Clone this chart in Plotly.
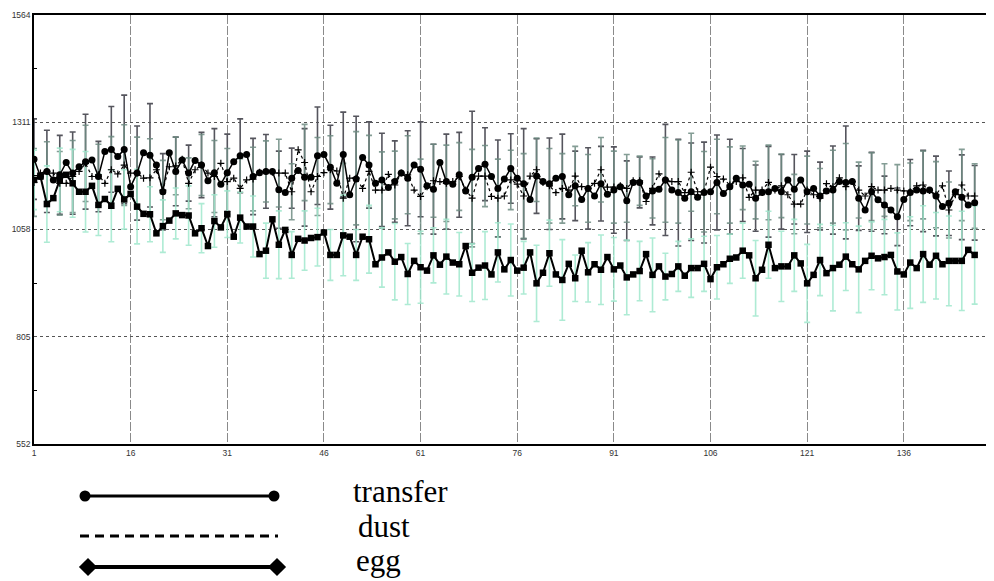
import plotly.graph_objects as go

# ---------------- data ----------------
transfer = [1224, 1183, 1195, 1175, 1187, 1216, 1191, 1206, 1218, 1222,
            1183, 1242, 1247, 1230, 1247, 1159, 1191, 1239, 1233, 1210,
            1147, 1239, 1195, 1222, 1191, 1221, 1210, 1173, 1192, 1165,
            1192, 1218, 1232, 1235, 1183, 1192, 1195, 1195, 1152, 1145,
            1179, 1197, 1181, 1181, 1232, 1235, 1205, 1167, 1235, 1140,
            1177, 1228, 1210, 1167, 1175, 1157, 1171, 1191, 1179, 1210,
            1200, 1161, 1153, 1216, 1171, 1165, 1187, 1149, 1181, 1202,
            1212, 1183, 1155, 1177, 1202, 1179, 1166, 1129, 1184, 1171,
            1166, 1179, 1183, 1140, 1161, 1129, 1155, 1137, 1166, 1141,
            1151, 1159, 1126, 1169, 1169, 1137, 1149, 1153, 1175, 1151,
            1145, 1132, 1147, 1134, 1145, 1147, 1169, 1143, 1159, 1179,
            1163, 1165, 1132, 1145, 1147, 1155, 1147, 1175, 1153, 1175,
            1147, 1155, 1137, 1149, 1151, 1171, 1169, 1171, 1132, 1104,
            1147, 1128, 1116, 1104, 1088, 1129, 1145, 1151, 1149, 1151,
            1137, 1112, 1120, 1147, 1134, 1116, 1121]

dust = [1169, 1191, 1195, 1191, 1167, 1167, 1183, 1195, 1214, 1183,
        1187, 1167, 1199, 1189, 1210, 1191, 1191, 1179, 1180, 1199,
        1151, 1206, 1208, 1224, 1167, 1199, 1210, 1191, 1183, 1214,
        1171, 1179, 1155, 1175, 1177, 1193, 1195, 1193, 1191, 1191,
        1147, 1246, 1216, 1147, 1183, 1192, 1199, 1196, 1132, 1179,
        1179, 1155, 1195, 1151, 1151, 1188, 1163, 1191, 1187, 1151,
        1136, 1159, 1173, 1171, 1167, 1171, 1183, 1151, 1132, 1184,
        1184, 1136, 1132, 1137, 1175, 1165, 1137, 1184, 1199, 1169,
        1161, 1145, 1155, 1151, 1184, 1159, 1155, 1167, 1199, 1158,
        1158, 1161, 1155, 1173, 1173, 1124, 1155, 1189, 1175, 1171,
        1171, 1145, 1193, 1147, 1147, 1205, 1183, 1177, 1163, 1171,
        1180, 1134, 1151, 1151, 1169, 1151, 1161, 1140, 1118, 1118,
        1151, 1140, 1132, 1166, 1159, 1180, 1159, 1171, 1151, 1137,
        1159, 1151, 1151, 1155, 1151, 1149, 1147, 1161, 1163, 1150,
        1140, 1161, 1104, 1140, 1163, 1137, 1137]

egg = [1175, 1183, 1118, 1132, 1175, 1187, 1167, 1147, 1147, 1161,
       1116, 1130, 1114, 1154, 1129, 1142, 1112, 1095, 1094, 1049,
       1066, 1079, 1096, 1092, 1091, 1049, 1061, 1019, 1078, 1063,
       1094, 1041, 1086, 1065, 1065, 1000, 1008, 1082, 1022, 1057,
       998, 1036, 1032, 1038, 1040, 1051, 998, 998, 1044, 1041,
       998, 1041, 1035, 976, 992, 1004, 982, 993, 953, 984,
       969, 961, 997, 975, 994, 980, 976, 1019, 956, 968,
       973, 952, 1004, 964, 986, 961, 968, 1004, 931, 956,
       1002, 952, 939, 977, 943, 1008, 957, 976, 963, 993,
       964, 973, 945, 952, 960, 1000, 951, 971, 947, 953,
       971, 949, 967, 967, 977, 941, 969, 976, 989, 992,
       1008, 997, 943, 963, 1022, 967, 971, 971, 997, 978,
       931, 951, 986, 955, 967, 975, 994, 976, 964, 984,
       996, 990, 993, 998, 959, 952, 980, 967, 1000, 975,
       996, 976, 984, 984, 984, 1010, 998]

# error half-widths, drawn at every other sample (1, 3, 5, ...)
transfer_err = [95, 97, 93, 97, 112, 83, 101, 128, 111, 122, 90, 81,
                66, 77, 104, 91, 87, 90, 87, 91, 71, 115, 115, 99,
                100, 148, 102, 110, 96, 112, 112, 106, 112, 100, 156, 86,
                114, 82, 130, 88, 108, 100, 82, 96, 88, 102, 94, 60, 80,
                131, 126, 115, 119, 112, 112, 86, 78, 107, 88, 82, 96,
                80, 104, 133, 76, 93, 68, 68, 78, 96, 94, 76, 100, 88]
dust_err = [80, 70, 75, 85, 90, 72, 78, 95, 85, 92, 70, 68,
            60, 72, 85, 78, 70, 75, 72, 80, 66, 90, 92, 80,
            82, 110, 85, 90, 80, 92, 88, 86, 90, 80, 115, 72,
            92, 70, 100, 75, 88, 82, 70, 80, 76, 85, 80, 58, 70,
            100, 98, 92, 95, 88, 90, 75, 68, 88, 75, 70, 80,
            70, 86, 102, 66, 80, 62, 60, 68, 80, 78, 66, 84, 76]
egg_err = [70, 90, 75, 80, 95, 72, 85, 70, 88, 65, 62, 60,
           70, 58, 62, 55, 60, 72, 65, 80, 55, 70, 68, 60,
           95, 60, 80, 70, 90, 72, 85, 65, 88, 75, 68, 80, 70,
           85, 62, 90, 78, 95, 55, 70, 82, 75, 88, 70, 87,
           55, 59, 69, 65, 75, 58, 65, 89, 79, 83, 85, 92, 84,
           101, 80, 102, 80, 89, 91, 108, 114, 102, 106, 117, 116]

series_names = ["transfer", "dust", "egg"]
y_ticks = [552, 805, 1058, 1311, 1564]
x_ticks = [1, 16, 31, 46, 61, 76, 91, 106, 121, 136]

# ---------------- figure geometry ----------------
# the page body adds an 8px margin, so the figure is laid out 8px up/left
OFF = 8
W, H = 994 - OFF, 581 - OFF
TOP = 15 - OFF
PLOT_BOTTOM = 444 - OFF
PLOT_LEFT = 34 - OFF
x = list(range(1, len(transfer) + 1))
xe = x[::2]

fig = go.Figure()

def err_trace(yvals, errs, color, width):
    return go.Scatter(
        x=xe, y=yvals[::2], mode="markers",
        marker=dict(size=1, color="rgba(0,0,0,0)"),
        error_y=dict(type="data", array=errs, visible=True,
                     color=color, thickness=width, width=3),
        showlegend=False, hoverinfo="skip")

fig.add_trace(err_trace(transfer, transfer_err, "#55555d", 1.6))
fig.add_trace(err_trace(dust, dust_err, "rgba(110,140,130,0.85)", 1.6))
fig.add_trace(err_trace(egg, egg_err, "rgba(160,232,205,0.85)", 1.6))

fig.add_trace(go.Scatter(x=x, y=dust, mode="lines+markers", name=series_names[1],
                         line=dict(color="black", width=1.2, dash="dot"),
                         marker=dict(symbol="cross-thin", size=5,
                                     line=dict(color="black", width=1.2)),
                         showlegend=False))
fig.add_trace(go.Scatter(x=x, y=transfer, mode="lines+markers", name=series_names[0],
                         line=dict(color="black", width=1.5),
                         marker=dict(symbol="circle", size=7, color="black"),
                         showlegend=False))
fig.add_trace(go.Scatter(x=x, y=egg, mode="lines+markers", name=series_names[2],
                         line=dict(color="black", width=2),
                         marker=dict(symbol="square", size=6.5, color="black"),
                         showlegend=False))

# ---- custom legend on a hidden helper axis (coordinates = page pixels) ----
def lx(px):
    return px - OFF

def ly(py):
    return 581 - py

fig.add_trace(go.Scatter(x=[lx(85), lx(274)], y=[ly(496)] * 2, xaxis="x2", yaxis="y2",
                         mode="lines+markers", line=dict(color="black", width=3),
                         marker=dict(symbol="circle", size=11, color="black"),
                         showlegend=False, hoverinfo="skip"))
fig.add_trace(go.Scatter(x=[lx(80), lx(278)], y=[ly(536)] * 2, xaxis="x2", yaxis="y2",
                         mode="lines", line=dict(color="black", width=3, dash="9px,6px"),
                         showlegend=False, hoverinfo="skip"))
fig.add_trace(go.Scatter(x=[lx(88), lx(277)], y=[ly(567)] * 2, xaxis="x2", yaxis="y2",
                         mode="lines+markers", line=dict(color="black", width=4),
                         marker=dict(symbol="diamond", size=14, color="black"),
                         showlegend=False, hoverinfo="skip"))

leg_text = [("transfer", 351, 491), ("dust", 356, 526), ("egg", 354, 560)]
for txt, tx, ty in leg_text:
    fig.add_annotation(text=txt, x=lx(tx), y=ly(ty), xref="x2", yref="y2",
                       xanchor="left", yanchor="middle", showarrow=False,
                       font=dict(family="Liberation Serif", size=31, color="black"))

main_bottom = (H - PLOT_BOTTOM) / (H - TOP)

fig.update_layout(
    width=W, height=H,
    margin=dict(l=0, r=0, t=TOP, b=0, autoexpand=False),
    paper_bgcolor="white", plot_bgcolor="white",
    xaxis=dict(domain=[PLOT_LEFT / W, 1], range=[1, 150], automargin=False,
               tickvals=x_ticks, ticktext=[str(v) for v in x_ticks],
               showgrid=True, gridcolor="#8a8a8a", gridwidth=1.3, griddash="9px,2px",
               showline=True, linecolor="black", linewidth=1.5, mirror=True,
               ticks="", zeroline=False,
               tickfont=dict(family="Liberation Sans", size=8.5, color="#333")),
    yaxis=dict(domain=[main_bottom, 1], range=[552, 1564], automargin=False,
               tickvals=y_ticks, ticktext=[str(v) for v in y_ticks],
               showgrid=True, gridcolor="#555", gridwidth=1, griddash="dot",
               showline=True, linecolor="black", linewidth=1.5,
               ticks="", zeroline=False,
               minor=dict(tickvals=[678.5, 931.5, 1184.5, 1437.5], ticks="inside",
                          ticklen=3, tickcolor="black", showgrid=False),
               tickfont=dict(family="Liberation Sans", size=8.5, color="#333")),
    xaxis2=dict(domain=[0, 1], range=[0, W], anchor="y2", visible=False),
    yaxis2=dict(domain=[0, main_bottom], range=[0, H - PLOT_BOTTOM], anchor="x2", visible=False),
)

fig.write_html("out.html")
